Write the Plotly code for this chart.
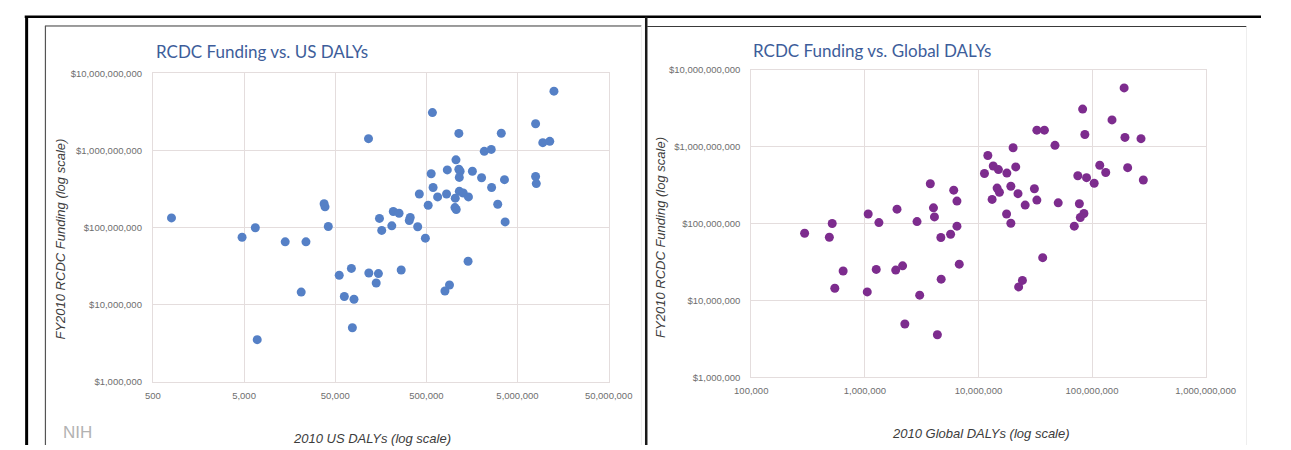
import plotly.graph_objects as go

W, H = 1291, 450

# ---------------- data ----------------
us_dalys = [800, 4760, 6650, 6980, 14150, 23900, 21200, 37800, 38700, 42000,
            55400, 75300, 63000, 80400, 77200, 116000, 117000, 149000, 141000, 153000,
            162000, 217000, 251000, 209000, 333000, 325000, 402000, 488000, 265000, 583000,
            565000, 593000, 419000, 524000, 665000, 833000, 849000, 1057000, 1137000, 1137000,
            1174000, 1150000, 1150000, 1270000, 1449000, 1038000, 1030000, 1064000, 1600000, 1435000,
            897000, 800000, 2160000, 2577000, 3320000, 2019000, 3600000, 2600000, 3035000, 3660000,
            7900000, 9470000, 11300000, 7900000, 8040000, 12560000]
us_funding = [133e6, 74.7e6, 99e6, 3.5e6, 65e6, 65e6, 14.5e6, 203e6, 185e6, 103e6,
              24e6, 29.4e6, 12.7e6, 11.7e6, 5.0e6, 1.42e9, 25.6e6, 25.2e6, 19e6, 131e6,
              91.6e6, 161e6, 153e6, 105e6, 135e6, 123e6, 102e6, 72.6e6, 28e6, 3.09e9,
              497e6, 330e6, 272e6, 194e6, 249e6, 272e6, 558e6, 754e6, 1.66e9, 570e6,
              537e6, 446e6, 294e6, 280e6, 249e6, 240e6, 181e6, 171e6, 537e6, 36.4e6,
              17.9e6, 15.0e6, 971e6, 1.03e9, 1.67e9, 442e6, 417e6, 330e6, 200e6, 118e6,
              2.22e9, 1.26e9, 1.31e9, 459e6, 371e6, 5.87e9]

global_dalys = [295000, 516000, 487000, 644000, 544000, 1.07e6, 1.33e6, 1.26e6, 1.05e6, 1.92e6,
                1.87e6, 2.15e6, 2.25e6, 2.88e6, 3.04e6, 3.77e6, 4.02e6, 4.10e6, 4.67e6, 4.70e6,
                4.35e6, 6.06e6, 6.47e6, 6.47e6, 5.69e6, 6.78e6,
                191.8e6, 82.7e6, 150e6, 32.7e6, 38.1e6, 86.5e6, 195e6, 270e6, 47.2e6, 20.2e6,
                12.1e6, 13.5e6, 15.0e6, 17.8e6, 11.3e6, 21.3e6, 117e6, 132e6, 206e6, 283e6,
                75e6, 89.5e6, 104.5e6, 14.6e6, 15.3e6, 19.3e6, 22.3e6, 31.1e6, 13.2e6, 32.7e6,
                25.8e6, 50.4e6, 77.4e6, 17.7e6, 19.3e6, 84.9e6, 78.9e6, 69.8e6, 36.8e6, 24.4e6,
                22.6e6]
global_funding = [74.7e6, 100e6, 66.4e6, 24.1e6, 14.4e6, 133e6, 103e6, 25.3e6, 12.9e6, 154e6,
                  24.8e6, 28.2e6, 4.93e6, 106e6, 11.7e6, 329e6, 160e6, 122e6, 65.9e6, 18.9e6,
                  3.58e6, 272e6, 196e6, 92.5e6, 72.5e6, 29.6e6,
                  5.81e9, 3.08e9, 2.23e9, 1.64e9, 1.64e9, 1.44e9, 1.32e9, 1.27e9, 1.04e9, 968e6,
                  767e6, 561e6, 503e6, 453e6, 448e6, 545e6, 573e6, 461e6, 533e6, 369e6,
                  419e6, 395e6, 334e6, 289e6, 255e6, 306e6, 245e6, 284e6, 206e6, 202e6,
                  174e6, 186e6, 181e6, 133e6, 101e6, 135e6, 120e6, 92.4e6, 36e6, 18.2e6,
                  15.0e6]

us_x_ticks = [500, 5000, 50000, 500000, 5000000, 50000000]
us_x_labels = ["500", "5,000", "50,000", "500,000", "5,000,000", "50,000,000"]
gl_x_ticks = [1e5, 1e6, 1e7, 1e8, 1e9]
gl_x_labels = ["100,000", "1,000,000", "10,000,000", "100,000,000", "1,000,000,000"]
y_ticks = [1e6, 1e7, 1e8, 1e9, 1e10]
y_labels = ["$1,000,000", "$10,000,000", "$100,000,000", "$1,000,000,000", "$10,000,000,000"]

title_left = "RCDC Funding vs. US DALYs"
title_right = "RCDC Funding vs. Global DALYs"
xtitle_left = "2010 US DALYs (log scale)"
xtitle_right = "2010 Global DALYs (log scale)"
ytitle = "FY2010 RCDC Funding (log scale)"

# ---------------- helpers (page pixel -> paper fraction) ----------------
def px(x):
    return x / W

def py(y):
    return 1 - y / H

GRID = "#e4dddd"
TICKFONT = dict(family="Liberation Sans, Arial, sans-serif", size=9.5, color="#6e6e6e")

fig = go.Figure()
fig.add_trace(go.Scatter(x=us_dalys, y=us_funding, mode="markers",
                         marker=dict(size=9, color="#5580c6", line=dict(width=0)),
                         xaxis="x", yaxis="y", showlegend=False))
fig.add_trace(go.Scatter(x=global_dalys, y=global_funding, mode="markers",
                         marker=dict(size=9, color="#7d2c8e", line=dict(width=0)),
                         xaxis="x2", yaxis="y2", showlegend=False))

common_axis = dict(type="log", showgrid=True, gridcolor=GRID, gridwidth=1,
                   showline=True, linecolor=GRID, linewidth=1, mirror=True,
                   zeroline=False, tickfont=TICKFONT, ticks="outside",
                   tickcolor="rgba(0,0,0,0)")

fig.update_layout(
    width=W, height=H, margin=dict(l=0, r=0, t=0, b=0), autosize=False,
    paper_bgcolor="white", plot_bgcolor="white",
    xaxis=dict(common_axis, domain=[px(141), px(614)], anchor="y",
               range=[2.69897, 7.69897], tickvals=us_x_ticks, ticktext=us_x_labels, ticklen=5),
    yaxis=dict(common_axis, domain=[py(385), py(69)], anchor="x",
               range=[6, 10], tickvals=y_ticks, ticktext=y_labels, ticklen=8),
    xaxis2=dict(common_axis, domain=[px(762), px(1233.5)], anchor="y2",
                range=[5, 9], tickvals=gl_x_ticks, ticktext=gl_x_labels, ticklen=4),
    yaxis2=dict(common_axis, domain=[py(380.6), py(65.4)], anchor="x2",
                range=[6, 10], tickvals=y_ticks, ticktext=y_labels, ticklen=8),
)

TITLEFONT = dict(family="Lato, Open Sans, sans-serif", size=17, color="#3d5d9a")
AXFONT = dict(family="Liberation Sans, Arial, sans-serif", size=13, color="#3c3c3c")

annos = [
    dict(text=title_left, x=px(142), y=py(47), xanchor="left", yanchor="middle", font=TITLEFONT),
    dict(text=title_right, x=px(762), y=py(46), xanchor="left", yanchor="middle", font=TITLEFONT),
    dict(text="<i>" + xtitle_left + "</i>", x=px(368.5), y=py(443), xanchor="center", yanchor="middle", font=AXFONT),
    dict(text="<i>" + xtitle_right + "</i>", x=px(1000), y=py(438), xanchor="center", yanchor="middle", font=AXFONT),
    dict(text="<i>" + ytitle + "</i>", x=px(45), y=py(239), xanchor="center", yanchor="middle",
         textangle=-90, font=AXFONT),
    dict(text="<i>" + ytitle + "</i>", x=px(668), y=py(237), xanchor="center", yanchor="middle",
         textangle=-90, font=AXFONT),
    dict(text="NIH", x=px(46), y=py(437), xanchor="left", yanchor="middle",
         font=dict(family="Liberation Sans, Arial, sans-serif", size=17, color="#b2b2b2")),
]
for a in annos:
    a.update(xref="paper", yref="paper", showarrow=False)
fig.update_layout(annotations=annos)

def line(x0, y0, x1, y1, color, width):
    return dict(type="line", xref="paper", yref="paper", x0=px(x0), y0=py(y0), x1=px(x1), y1=py(y1),
                line=dict(color=color, width=width), layer="above")

fig.update_layout(shapes=[
    line(8, 11, 1291, 11, "#000000", 2.5),
    line(10, 11, 10, 450, "#000000", 3),
    line(653, 11, 653, 450, "#1a1a1a", 2.5),
    line(29, 20.5, 648, 20.5, "#3a3a3a", 1),
    line(29.5, 20.5, 29.5, 450, "#555555", 1.2),
    line(654, 21, 1276, 21, "#3a3a3a", 1.2),
    line(1276, 21, 1276, 450, "#eeeeee", 1),
    line(648, 20.5, 648, 450, "#eeeeee", 1),
])

fig.write_html("out.html", config={"displayModeBar": False})
